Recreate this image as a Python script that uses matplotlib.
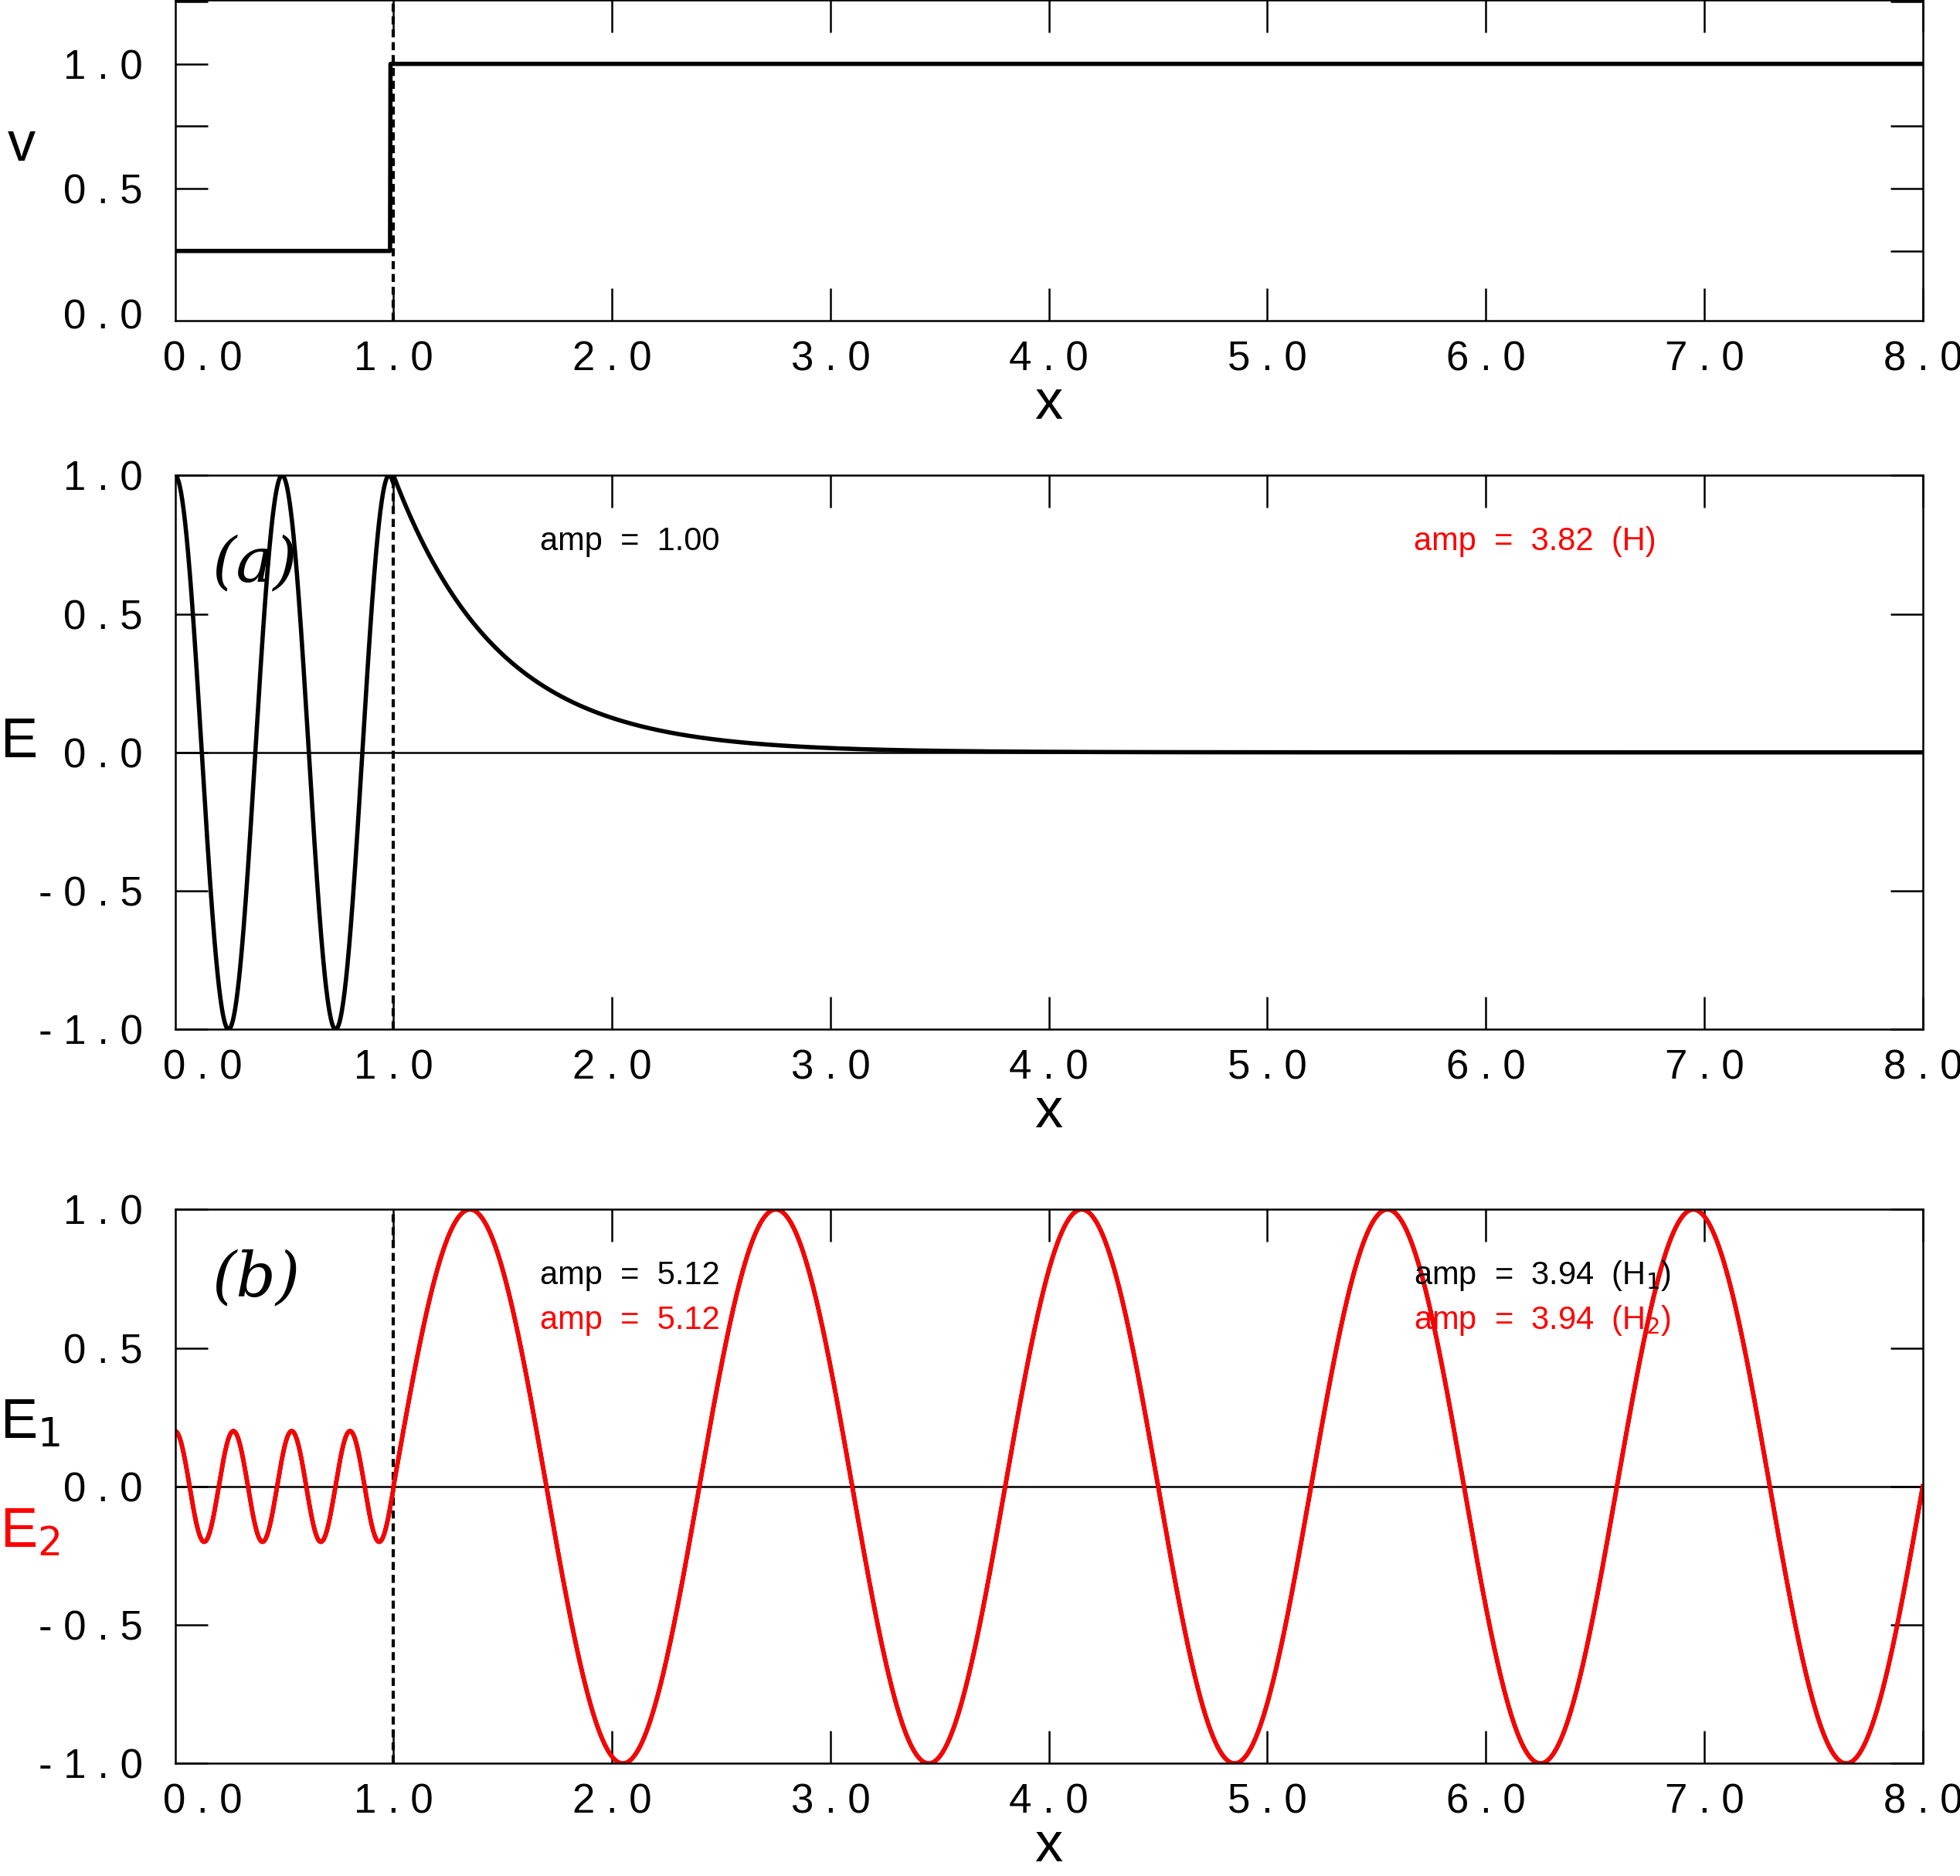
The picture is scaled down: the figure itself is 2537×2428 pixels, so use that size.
import numpy as np
import matplotlib
matplotlib.use("Agg")
import matplotlib.pyplot as plt
from matplotlib.ticker import MultipleLocator
from matplotlib.transforms import ScaledTranslation

plt.rcParams['font.family'] = ['Liberation Sans', 'DejaVu Sans']

# values
x_ticks = [0, 1, 2, 3, 4, 5, 6, 7, 8]
x_ticklabels = ["0 . 0", "1 . 0", "2 . 0", "3 . 0", "4 . 0", "5 . 0", "6 . 0", "7 . 0", "8 . 0"]
v_ticks = [0.0, 0.5, 1.0]
v_ticklabels = ["0 . 0", "0 . 5", "1 . 0"]
e_ticks = [-1.0, -0.5, 0.0, 0.5, 1.0]
e_ticklabels = ["- 1 . 0", "- 0 . 5", "0 . 0", "0 . 5", "1 . 0"]
v_left, v_right, x_step = 0.25, 1.0, 0.985
barrier_x = 1.0
a_period_in, a_decay = 0.49, 0.48
b_amp_in, b_period_in, b_period_out = 0.2, 0.267, 1.40

x = np.linspace(0, 8, 4000)
v = np.where(x < x_step, v_left, v_right)
Ea = np.where(x <= barrier_x, np.cos(2*np.pi*x/a_period_in), np.exp(-(x-barrier_x)/a_decay))
Eb = np.where(x <= barrier_x, b_amp_in*np.cos(2*np.pi*x/b_period_in),
              np.sin(2*np.pi*(x-barrier_x)/b_period_out))

fig = plt.figure(figsize=(25.37, 24.28), dpi=100)
L, W = 0.0893, 0.8917
ax1 = fig.add_axes([L, 0.829, W, 0.171])
ax2 = fig.add_axes([L, 0.4513, W, 0.2953])
ax3 = fig.add_axes([L, 0.06, W, 0.2953])

FS = 38
lw = 4
for ax in (ax1, ax2, ax3):
    ax.set_xlim(0, 8)
    ax.set_xticks(x_ticks)
    ax.set_xticklabels(x_ticklabels, ha='center')
    ax.tick_params(direction='in', length=30, width=1.8, top=True, right=True,
                   labelsize=FS)
    ax.tick_params(axis='x', pad=18)
    ax.tick_params(axis='y', pad=30)
    ax.tick_params(which='minor', direction='in', length=30, width=1.8, left=True, right=True)
    lab0 = ax.get_xticklabels()[0]
    lab0.set_transform(lab0.get_transform() + ScaledTranslation(0.36, 0, fig.dpi_scale_trans))
    t0 = ax.xaxis.get_major_ticks()[0]
    t0.tick1line.set_visible(False); t0.tick2line.set_visible(False)
    for s in ax.spines.values():
        s.set_linewidth(1.8)
    ax.axvline(barrier_x, color='black', ls=(0, (2.5, 1.5)), lw=3)
    ax.set_xlabel("x", fontsize=52, labelpad=0)

ax1.plot(x, v, color='black', lw=lw)
ax1.set_ylim(-0.03, 1.256)
ax1.set_yticks(v_ticks)
ax1.set_yticklabels(v_ticklabels)
ax1.yaxis.set_minor_locator(MultipleLocator(0.25))
ty = ax1.yaxis.get_major_ticks()[0]
ty.tick1line.set_visible(False); ty.tick2line.set_visible(False)
fig.text(0.004, 0.922, "v", fontsize=52, va='center')

for ax in (ax2, ax3):
    ax.set_ylim(-1, 1)
    ax.set_yticks(e_ticks)
    ax.set_yticklabels(e_ticklabels)
    ax.axhline(0, color='black', lw=1.8)

ax2.plot(x, Ea, color='black', lw=lw)
ax2.text(0.17, 0.68, "(a)", fontsize=58, family='DejaVu Serif', style='italic', va='center')
ax2.text(1.67, 0.76, "amp  =  1.00", fontsize=30, va='center')
ax2.text(5.67, 0.76, "amp  =  3.82  (H)", fontsize=30, va='center', color='red')
fig.text(0.0, 0.604, "E", fontsize=52, va='center')

ax3.plot(x, Eb, color='black', lw=lw)
ax3.plot(x, Eb, color='red', lw=lw)
ax3.text(0.17, 0.75, "(b)", fontsize=58, family='DejaVu Serif', style='italic', va='center')
ax3.text(1.67, 0.76, "amp  =  5.12", fontsize=30, va='center')
ax3.text(1.67, 0.6, "amp  =  5.12", fontsize=30, va='center', color='red')
ax3.text(5.67, 0.76, "amp  =  3.94  (H$_1$)", fontsize=30, va='center')
ax3.text(5.67, 0.6, "amp  =  3.94  (H$_2$)", fontsize=30, va='center', color='red')
fig.text(0.0, 0.241, "E$_1$", fontsize=52, va='center')
fig.text(0.0, 0.183, "E$_2$", fontsize=52, va='center', color='red')

fig.savefig("out.png", dpi=100)
